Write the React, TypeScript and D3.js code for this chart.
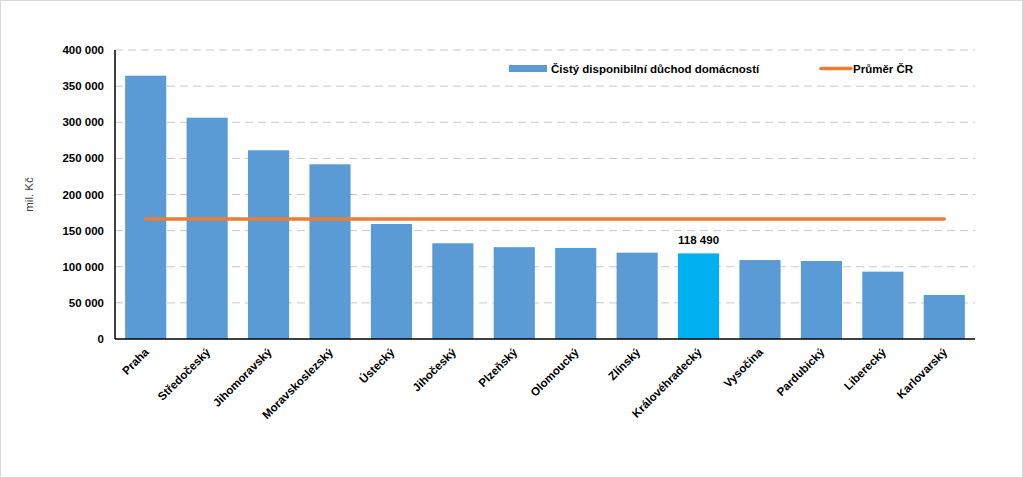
import React, { useEffect } from "react";
import * as d3 from "d3";

const categories = ["Praha", "Středočeský", "Jihomoravský", "Moravskoslezský", "Ústecký", "Jihočeský", "Plzeňský", "Olomoucký", "Zlínský", "Královéhradecký", "Vysočina", "Pardubický", "Liberecký", "Karlovarský"];
const values = [364400, 306300, 261200, 241800, 159200, 132500, 127100, 126000, 119500, 118490, 109300, 108000, 93200, 60900];
const averageCR = 166100;
const yTicks = [0, 50000, 100000, 150000, 200000, 250000, 300000, 350000, 400000];
const highlighted = "Královéhradecký";
const seriesName = "Čistý disponibilní důchod domácností";
const avgName = "Průměr ČR";
const yTitle = "mil. Kč";

const W = 1023, H = 478;
const M = { left: 115, right: 975, top: 50, bottom: 339 };
const FONT = "'Liberation Sans', Arial, sans-serif";
const FS = 11.5;

const fmt = (v: number) => d3.format(",")(v).replace(/,/g, " ");

export default function App() {
  useEffect(() => { document.body.style.margin = "0"; }, []);
  const x = d3.scaleBand<string>().domain(categories).range([M.left, M.right]).paddingInner(0.33).paddingOuter(0.165);
  const y = d3.scaleLinear().domain([0, 400000]).range([M.bottom, M.top]);
  const first = x(categories[0])! + x.bandwidth() / 2;
  const last = x(categories[categories.length - 1])! + x.bandwidth() / 2;
  return (
    <svg width={W} height={H} style={{ display: "block", fontFamily: FONT }}>
      <rect x={0.5} y={0.5} width={W - 1} height={H - 1} fill="#fff" stroke="#d9d9d9" />
      {yTicks.filter(t => t > 0).map(t => (
        <line key={t} x1={M.left} x2={M.right} y1={y(t)} y2={y(t)} stroke="#c8c8c8" strokeDasharray="8,5" strokeWidth={1} />
      ))}
      {yTicks.map(t => (
        <text key={t} x={104} y={y(t)} dy="0.35em" textAnchor="end" fontSize={FS} fontWeight="bold" fill="#000">{fmt(t)}</text>
      ))}
      <text transform={`translate(33,${(M.top + M.bottom) / 2}) rotate(-90)`} textAnchor="middle" fontSize={11.5} fill="#404040">{yTitle}</text>
      {categories.map((c, i) => (
        <rect key={c} x={x(c)} y={y(values[i])} width={x.bandwidth()} height={M.bottom - y(values[i])} fill={c === highlighted ? "#00b0f0" : "#5b9bd5"} />
      ))}
      <line x1={first} x2={last} y1={y(averageCR)} y2={y(averageCR)} stroke="#ed7d31" strokeWidth={3.5} strokeLinecap="round" />
      {categories.map((c, i) => c === highlighted ? (
        <text key={c} x={x(c)! + x.bandwidth() / 2} y={y(values[i]) - 9} textAnchor="middle" fontSize={FS} fontWeight="bold">{fmt(values[i])}</text>
      ) : null)}
      <line x1={M.left} x2={M.left} y1={M.top} y2={M.bottom} stroke="#000" strokeWidth={1.5} />
      <line x1={M.left} x2={M.right} y1={M.bottom} y2={M.bottom} stroke="#000" strokeWidth={1.5} />
      {categories.map(c => (
        <text key={c} transform={`translate(${x(c)! + x.bandwidth() / 2 + 1},${M.bottom + 11}) rotate(-45)`} textAnchor="end" fontSize={FS} fontWeight="bold" dy="0.35em">{c}</text>
      ))}
      <rect x={509} y={65} width={38} height={7} fill="#5b9bd5" />
      <text x={551} y={68.5} dy="0.35em" fontSize={FS} fontWeight="bold">{seriesName}</text>
      <line x1={821} x2={851} y1={68.5} y2={68.5} stroke="#ed7d31" strokeWidth={3.5} strokeLinecap="round" />
      <text x={853} y={68.5} dy="0.35em" fontSize={FS} fontWeight="bold">{avgName}</text>
    </svg>
  );
}
